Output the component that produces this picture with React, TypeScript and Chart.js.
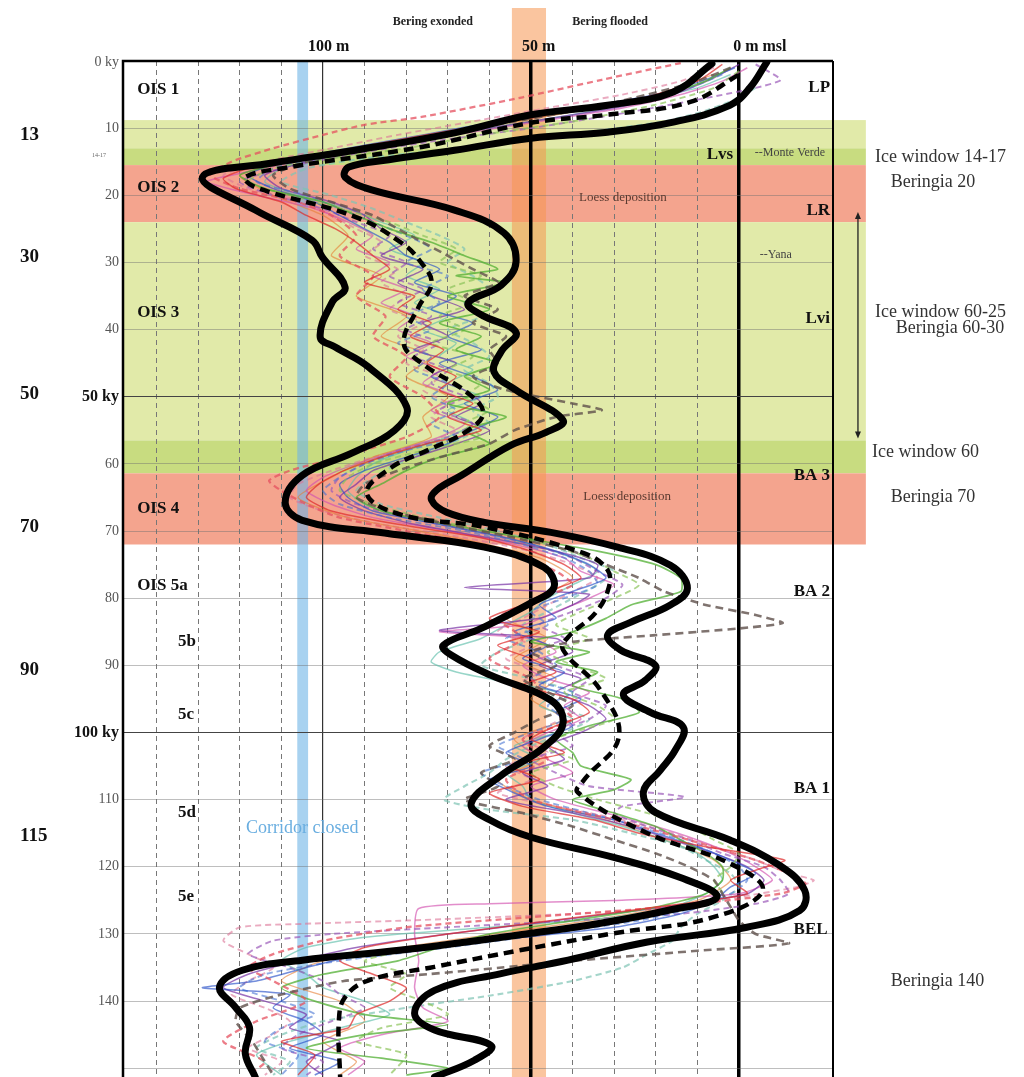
import React, { useEffect, useRef } from "react";
import { Chart, registerables } from "chart.js";

Chart.register(...registerables);

const SERIF = "'Liberation Serif', 'DejaVu Serif', serif";

type P = [number, number]; // [age ky, sea level m]

// ---------- axis ranges ----------
const SEA_MIN = -148.1;
const SEA_MAX = 22.6;
const AGE_MIN = 0;
const AGE_MAX = 151.3;

const ageTicks = [0, 10, 20, 30, 40, 50, 60, 70, 80, 90, 100, 110, 120, 130, 140];
const ageTickLabels = ["0 ky", "10", "20", "30", "40", "50 ky", "60", "70", "80", "90", "100 ky", "110", "120", "130", "140"];
const outerAgeLabels = ["13", "30", "50", "70", "90", "115"];
const outerAgeAt = [11, 29.2, 49.6, 69.4, 90.7, 115.4];

// ---------- thick envelope curves ----------
const curveA: P[] = [
  [0.4, -6.5], [4.6, -15.8], [6.6, -31.6], [8.0, -50.0], [10.7, -68.4], [13.3, -92.3], [15.2, -112.2], [17.3, -129.0],
  [22.2, -116.3], [26.7, -102.6], [29.2, -100.2], [33.7, -94.7], [35.9, -97.8], [41.1, -100.7], [42.6, -97.1], [45.6, -89.0],
  [51.5, -79.9], [55.0, -82.8], [58.4, -93.1], [61.7, -105.0], [65.7, -109.1], [68.4, -105.0], [70.3, -85.2], [72.4, -61.2],
  [75.4, -46.9], [78.4, -44.5], [80.7, -50.0], [84.5, -62.0], [87.0, -71.1], [88.5, -69.1], [91.5, -59.6], [95.2, -45.2],
  [98.6, -42.3], [102.2, -46.9], [106.4, -57.2], [110.6, -64.4], [113.0, -60.0], [115.6, -50.0], [118.6, -30.1], [121.6, -14.1],
  [124.5, -5.3], [126.5, -17.2], [128.4, -33.3], [129.9, -50.0], [132.4, -81.1], [133.9, -105.0], [135.4, -119.4], [137.9, -124.9],
  [140.9, -121.1], [143.9, -117.7], [147.8, -118.7], [151.3, -116.3],
];
const curveB: P[] = [
  [0.15, 6.7], [4.0, 2.6], [6.6, -2.2], [9.1, -15.8], [10.6, -31.6], [11.5, -50.0], [13.3, -68.4], [14.7, -84.2], [15.8, -93.8],
  [17.3, -94.7], [19.2, -88.3], [22.2, -68.4], [25.6, -56.5], [29.9, -53.6], [33.4, -57.2], [36.0, -65.1], [37.8, -62.0],
  [40.4, -53.6], [43.3, -57.2], [46.3, -58.9], [49.0, -53.6], [53.5, -42.3], [55.3, -46.4], [57.2, -54.8], [61.7, -66.7],
  [63.9, -72.7], [65.4, -73.9], [67.2, -70.3], [68.7, -61.2], [70.2, -45.2], [72.4, -29.2], [75.1, -16.5], [78.5, -12.4],
  [81.0, -16.5], [83.6, -26.1], [85.5, -31.6], [87.7, -28.5], [90.0, -20.1], [92.2, -22.5], [94.4, -27.8], [97.0, -21.3],
  [99.2, -13.4], [102.6, -15.3], [105.6, -18.9], [108.9, -23.0], [111.9, -20.1], [116.0, -2.2], [119.8, 9.8], [123.5, 15.8],
  [126.5, 14.6], [129.0, 1.9], [131.2, -22.0], [133.9, -41.1], [135.9, -57.2], [138.4, -73.2], [141.8, -78.0], [144.3, -73.2],
  [146.6, -59.6], [148.8, -63.6], [151.3, -73.2],
];
const curveMean: P[] = [
  [2.1, -0.2], [6.1, -11.7], [8.0, -31.6], [9.2, -50.0], [12.8, -76.3], [15.8, -108.1], [17.3, -118.7], [18.8, -116.3],
  [23.2, -92.3], [27.1, -81.1], [30.1, -76.3], [33.1, -73.9], [36.6, -77.0], [42.0, -80.6], [45.0, -76.3], [49.5, -65.1],
  [52.4, -61.5], [55.0, -65.1], [57.9, -74.6], [60.5, -83.5], [64.4, -89.5], [67.6, -81.1], [69.4, -61.2], [73.3, -37.3],
  [75.8, -31.6], [78.4, -31.3], [82.1, -34.4], [85.8, -41.1], [87.7, -42.3], [93.7, -33.3], [100.7, -28.9], [107.1, -37.3],
  [108.9, -38.8], [115.0, -22.0], [119.5, -2.2], [123.5, 5.7], [127.5, -6.2], [129.9, -30.1], [132.4, -52.4], [134.9, -73.2],
  [136.9, -89.0], [139.4, -94.7], [142.9, -96.2], [151.3, -95.9],
];

// ---------- thin individual reconstructions ----------
const redSolid: P[] = [
  [0.5, -4], [3, -10], [6, -26], [8, -45], [10, -66], [12, -84], [14, -102], [16, -118], [17.5, -124], [19, -121], [21, -110],
  [23, -104], [25, -97], [27, -92], [29, -88], [31, -84], [33, -90], [35, -78], [37, -82], [39, -74], [41, -79], [43, -71],
  [45, -75], [47, -68], [49, -72], [51, -64], [53, -70], [55, -62], [57, -75], [59, -86], [61, -95], [63, -101], [65, -104],
  [67, -98], [69, -82], [71, -62], [73, -50], [75, -42], [77, -38], [79, -46], [81, -52], [83, -60], [85, -48], [87, -58],
  [89, -50], [91, -44], [93, -52], [95, -40], [97, -36], [99, -44], [101, -50], [103, -42], [105, -55], [107, -48], [109, -60],
  [111, -52], [113, -35], [115, -24], [117, -8], [119, 11], [120.5, 4], [122, -2], [124, 2], [126, -20], [128, -45], [130, -70],
  [132, -90], [134, -96], [136, -88], [138, -80], [140, -84], [142, -92], [144, -94], [146, -110], [148, -102], [151, -106],
];
const redDashed: P[] = [
  [0.3, -14], [2.8, -33], [5.4, -52], [8.3, -76], [9.5, -90], [11, -100], [13, -112], [15, -122], [17, -127], [19, -120],
  [21, -106], [23, -98], [26, -92], [29, -96], [32, -88], [35, -92], [38, -85], [41, -88], [44, -80], [47, -84], [50, -76],
  [53, -72], [56, -80], [59, -96], [61, -108], [62.5, -113], [64, -110], [66, -104], [68, -96], [70, -80], [72, -62], [74, -52],
  [76, -44], [78, -40], [80, -48], [83, -58], [86, -52], [89, -60], [92, -50], [95, -46], [98, -40], [101, -52], [104, -46],
  [107, -56], [110, -50], [113, -30], [116, -12], [119, 4], [121, 12], [122.5, 16], [124, 10], [126, -18], [127.5, -50],
  [129, -80], [131, -100], [133, -112], [135, -118], [137, -112], [140, -104], [143, -116], [146, -124], [149, -114], [151, -118],
];
const greenSolid: P[] = [
  [1, -2], [3, -8], [5, -18], [7, -34], [9, -56], [11, -72], [13, -90], [15, -108], [17, -120], [19, -114], [21, -100],
  [23, -92], [25, -84], [27, -74], [29, -66], [31, -58], [32, -68], [33, -56], [35, -70], [37, -60], [39, -72], [41, -62],
  [43, -68], [45, -58], [47, -66], [49, -60], [51, -70], [53, -56], [55, -66], [57, -60], [59, -72], [61, -80], [63, -86],
  [65, -92], [67, -86], [69, -70], [71, -52], [73, -34], [75, -20], [77, -14], [79, -14], [81, -26], [83, -32], [85, -40],
  [86.5, -50], [88, -36], [89.5, -44], [91, -34], [93, -40], [95, -28], [97, -24], [99, -36], [101, -44], [103, -40],
  [105, -38], [107, -26], [108.5, -30], [110, -40], [112, -30], [114, -20], [116, -14], [118, -8], [120, -4], [122, -4],
  [124, -8], [126, -20], [128, -40], [130, -60], [132, -72], [134, -82], [136, -100], [138, -110], [140, -102], [142, -90],
  [143.5, -70], [145, -90], [147, -104], [148.5, -86], [150, -70], [151, -80],
];
const greenDashed: P[] = [
  [1.5, 0], [4, -6], [6.5, -20], [9, -40], [11, -62], [13, -80], [14.5, -98], [16, -112], [18, -118], [20, -108], [22, -96],
  [24, -84], [26, -76], [28, -68], [30, -72], [32, -62], [34, -70], [36, -64], [38, -72], [40, -66], [42, -74], [44, -64],
  [46, -70], [48, -62], [50, -66], [52, -60], [54, -66], [56, -62], [58, -76], [60, -88], [62, -94], [64, -96], [66, -88],
  [68, -76], [70, -60], [72, -46], [74, -36], [76, -30], [78, -24], [80, -30], [82, -38], [84, -44], [86, -36], [88, -46],
  [90, -40], [92, -32], [94, -42], [96, -34], [98, -30], [100, -40], [102, -48], [104, -40], [106, -50], [108, -44],
  [110, -34], [112, -22], [114, -12], [116, -6], [118, 0], [120, -2], [122, -6], [124, -4], [126, -12], [128, -28],
  [130, -52], [132, -76], [134, -90], [136, -80], [138, -84], [140, -76], [142, -70], [144, -86], [146, -92], [148, -80], [151, -84],
];
const blueSolid: P[] = [
  [1, -1], [3, -9], [5, -20], [7, -38], [9, -58], [11, -76], [13, -94], [15, -110], [17, -118], [19, -112], [21, -102],
  [23, -96], [25, -90], [27, -84], [29, -80], [31, -72], [33, -78], [35, -68], [37, -74], [39, -64], [41, -70], [43, -62],
  [45, -72], [47, -64], [49, -58], [51, -66], [53, -58], [55, -64], [57, -70], [59, -80], [61, -90], [63, -96], [65, -94],
  [67, -88], [69, -72], [71, -56], [73, -44], [75, -36], [77, -32], [79, -40], [81, -48], [83, -44], [85, -54], [87, -46],
  [89, -52], [91, -42], [93, -48], [95, -38], [97, -44], [99, -40], [101, -48], [103, -56], [105, -50], [107, -60], [109, -54],
  [111, -46], [113, -30], [115, -20], [117, -10], [119, -2], [121, 4], [123, -2], [125, -6], [127, -14], [129, -30], [131, -60],
  [133, -90], [135, -104], [137, -116], [138, -129], [139, -108], [141, -112], [143, -104], [145, -100], [147, -108],
  [149, -96], [151, -102],
];
const blueDashed: P[] = [
  [2, -4], [4, -12], [6, -28], [8, -46], [10, -64], [12, -82], [14, -98], [16, -112], [18, -116], [20, -104], [22, -96],
  [24, -88], [26, -80], [28, -74], [30, -80], [32, -70], [34, -76], [36, -72], [38, -80], [40, -74], [42, -82], [44, -74],
  [46, -78], [48, -70], [50, -74], [52, -68], [54, -74], [56, -68], [58, -80], [60, -90], [62, -96], [64, -100], [66, -96],
  [68, -84], [70, -66], [72, -52], [74, -42], [76, -36], [78, -34], [80, -42], [82, -50], [84, -46], [86, -56], [88, -48],
  [90, -44], [92, -50], [94, -40], [96, -46], [98, -42], [100, -50], [102, -58], [104, -52], [106, -62], [108, -56],
  [110, -48], [112, -36], [114, -24], [116, -14], [118, -6], [120, 0], [122, 2], [124, -2], [126, -10], [128, -24],
  [130, -46], [132, -70], [134, -96], [136, -114], [138, -120], [140, -110], [142, -102], [144, -110], [146, -114],
  [148, -106], [151, -110],
];
const purpleSolid: P[] = [
  [0.5, 0], [2.5, -6], [5, -16], [7, -30], [9, -50], [11, -70], [13, -88], [15, -104], [17, -114], [19, -110], [21, -98],
  [23, -90], [25, -86], [27, -80], [29, -86], [31, -76], [33, -82], [35, -74], [37, -66], [39, -76], [41, -70], [43, -78],
  [45, -68], [47, -74], [49, -66], [51, -62], [53, -68], [55, -60], [57, -68], [59, -78], [61, -88], [63, -92], [65, -96],
  [67, -90], [69, -78], [71, -60], [73, -44], [75, -34], [77, -36], [78.4, -66], [79.4, -36], [81, -40], [83, -48],
  [84.8, -72], [86, -44], [88, -40], [90, -48], [92, -38], [94, -44], [96, -36], [98, -32], [100, -38], [102, -46],
  [104, -42], [106, -52], [108, -46], [110, -56], [112, -40], [114, -26], [116, -16], [118, -6], [120, 2], [122, 6],
  [124, 2], [126, -18], [128, -44], [130, -70], [132, -92], [134, -106], [136, -118], [138, -124], [140, -114], [142, -104],
  [144, -108], [146, -96], [149, -104], [151, -100],
];
const purpleDashed: P[] = [
  [0.5, 4], [2.8, 10], [4, 4], [6, -12], [8, -30], [10, -50], [12, -74], [14, -94], [16, -110], [18, -120], [20, -112],
  [22, -100], [24, -92], [26, -84], [28, -88], [30, -80], [32, -84], [34, -76], [36, -82], [38, -74], [40, -80], [42, -72],
  [44, -78], [46, -70], [48, -74], [50, -66], [52, -72], [54, -64], [56, -70], [58, -82], [60, -90], [62, -96], [64, -98],
  [66, -92], [68, -80], [70, -64], [72, -50], [74, -40], [76, -34], [78, -28], [80, -32], [82, -40], [84, -48], [86, -42],
  [88, -50], [90, -44], [92, -36], [94, -40], [96, -32], [98, -36], [100, -44], [102, -40], [104, -50], [106, -44],
  [108, -36], [109.6, -13], [111, -28], [112, -30], [114, -22], [116, -12], [118, -4], [120, 6], [122, 10], [124, 12],
  [125.5, 4], [127, -14], [128, -40], [129, -70], [130, -98], [131, -112], [133, -118], [135, -108], [137, -100],
  [139, -96], [141, -90], [143, -98], [145, -106], [147, -110], [149, -100], [151, -104],
];
const magentaSolid: P[] = [
  [1, 2], [3, -4], [5, -14], [7, -28], [9, -48], [11, -68], [13, -86], [15, -106], [17, -122], [18, -128], [20, -116],
  [22, -102], [24, -94], [26, -88], [28, -92], [30, -84], [32, -88], [34, -80], [36, -86], [38, -78], [40, -82], [42, -74],
  [44, -80], [46, -72], [48, -76], [50, -68], [52, -74], [54, -66], [56, -72], [58, -82], [60, -92], [62, -100], [64, -104],
  [66, -98], [68, -88], [70, -70], [72, -54], [74, -42], [76, -38], [78, -30], [80, -36], [82, -44], [84, -52], [85, -72],
  [86, -50], [88, -44], [90, -52], [92, -46], [94, -36], [96, -42], [98, -38], [100, -46], [102, -52], [104, -46],
  [106, -40], [108, -50], [110, -44], [112, -32], [114, -20], [116, -10], [118, -2], [120, 4], [122, 8], [124, 0],
  [125, -30], [125.5, -60], [126.2, -77], [130, -78], [134, -77], [138, -78], [141, -76], [143, -70], [145, -86], [147, -96],
  [149, -90], [151, -94],
];
const tealSolid: P[] = [
  [2, -2], [4, -10], [6, -24], [8, -40], [10, -60], [12, -78], [14, -96], [16, -110], [18, -114], [20, -106], [22, -94],
  [24, -86], [26, -78], [28, -84], [30, -76], [32, -80], [34, -72], [36, -78], [38, -70], [40, -76], [42, -68], [44, -72],
  [46, -64], [48, -70], [50, -62], [52, -70], [54, -64], [56, -70], [58, -80], [60, -88], [62, -92], [64, -94], [66, -90],
  [68, -80], [70, -64], [72, -50], [74, -40], [76, -34], [78, -40], [80, -46], [82, -50], [84, -56], [86, -62], [88, -72],
  [89.5, -74], [91, -68], [92.5, -56], [94, -44], [96, -48], [98, -40], [100, -44], [102, -54], [104, -48], [106, -56],
  [108, -52], [110, -50], [112, -40], [114, -28], [116, -18], [118, -10], [120, -6], [122, -4], [124, -8], [126, -16],
  [127.5, -30], [129, -60], [130.5, -90], [132, -104], [134, -110], [136, -104], [138, -100], [140, -90], [142, -84],
  [144, -96], [146, -108], [148, -116], [151, -110],
];
const tealDashed: P[] = [
  [4, 4], [6, -2], [7.6, -9], [9, -18], [10.3, -33], [11.8, -52], [13.3, -72], [14.5, -90], [16, -104], [18, -110],
  [20, -98], [22, -88], [24, -80], [26, -72], [28, -66], [30, -70], [32, -64], [34, -60], [36, -66], [38, -62], [40, -70],
  [42, -64], [44, -60], [46, -66], [48, -60], [50, -58], [52, -64], [54, -60], [56, -66], [58, -74], [60, -82], [62, -88],
  [64, -92], [66, -86], [68, -72], [70, -58], [72, -46], [74, -38], [76, -30], [78, -34], [80, -40], [82, -46], [84, -52],
  [86, -50], [88, -58], [90, -62], [92, -50], [94, -40], [96, -44], [98, -36], [100, -42], [102, -50], [104, -56],
  [106, -60], [108, -66], [110, -71], [111.5, -60], [113, -40], [115, -26], [117, -14], [119, -8], [121, -2], [123, 0],
  [125, -4], [127, -10], [129, -14], [131, -16], [133, -22], [135, -28], [137, -40], [139, -58], [141, -80], [143, -100],
  [145, -110], [147, -116], [149, -108], [151, -112],
];
const greyDashed: P[] = [
  [1, -2], [3, -10], [5, -22], [7, -36], [9, -54], [11, -72], [13, -90], [15, -104], [17, -112], [19, -108], [21, -98],
  [23, -88], [25, -82], [27, -76], [29, -70], [31, -64], [33, -58], [35, -66], [37, -58], [39, -64], [41, -56], [43, -60],
  [45, -58], [47, -64], [49, -56], [51, -40], [52, -33], [53, -44], [55, -54], [57, -60], [59, -72], [61, -82], [63, -90],
  [65, -92], [67, -84], [69, -70], [71, -54], [73, -40], [75, -32], [77, -24], [79, -18], [81, -8], [82.5, 4], [83.7, 10.5],
  [84.5, 0], [85.5, -20], [86.5, -40], [88, -50], [90, -44], [92, -52], [94, -46], [96, -40], [98, -48], [100, -54],
  [102, -60], [104, -54], [106, -62], [108, -58], [110, -66], [112, -52], [114, -40], [116, -30], [118, -20], [120, -12],
  [122, -6], [124, -4], [126, -2], [128, 0], [130, 4], [131.4, 12], [132.5, -10], [134, -40], [135, -57], [136, -75],
  [137, -95], [139, -110], [141, -120], [143, -121], [146, -117], [148, -115], [151, -112],
];
const orangeSolid: P[] = [
  [2, -6], [5, -20], [8, -44], [11, -74], [14, -100], [17, -120], [20, -112], [23, -100], [26, -94], [29, -98], [32, -86],
  [35, -92], [38, -80], [41, -86], [44, -74], [47, -80], [50, -70], [53, -76], [56, -74], [59, -88], [62, -98], [65, -106],
  [68, -94], [71, -68], [74, -48], [77, -40], [80, -48], [83, -56], [86, -46], [89, -54], [92, -44], [95, -50], [98, -42],
  [101, -54], [104, -48], [107, -58], [110, -50], [113, -32], [116, -18], [119, -6], [122, -2], [125, -10], [128, -36],
  [131, -70], [134, -100], [137, -110], [140, -96], [143, -90], [146, -100], [149, -92], [151, -96],
];
const pinkDashed: P[] = [
  [1, -6], [3, -14], [5, -28], [7, -46], [9, -64], [11, -82], [13, -98], [15, -114], [17, -124], [19, -118], [21, -104],
  [23, -98], [25, -92], [27, -86], [29, -90], [31, -82], [33, -86], [35, -80], [37, -84], [39, -76], [41, -82], [43, -76],
  [45, -80], [47, -72], [49, -76], [51, -70], [53, -74], [55, -68], [57, -76], [59, -88], [61, -98], [63, -106], [65, -108],
  [67, -100], [69, -86], [71, -66], [73, -50], [75, -40], [77, -34], [79, -40], [81, -46], [83, -52], [85, -58], [87, -50],
  [89, -56], [91, -48], [93, -54], [95, -46], [97, -40], [99, -46], [101, -52], [103, -46], [105, -56], [107, -50],
  [109, -58], [111, -44], [113, -28], [115, -16], [117, -6], [119, 4], [121, 12], [122, 18], [123, 14], [124.5, 0],
  [126, -14], [127, -40], [128, -80], [128.5, -105], [129, -120], [131, -124], [133, -118], [135, -112], [137, -118],
  [139, -122], [141, -114], [143, -108], [145, -112], [147, -118], [149, -110], [151, -114],
];

// ---------- shaded periods (age ranges) ----------
const bandFrom = [8.8, 13.0, 15.5, 24.0, 56.5, 61.4];
const bandTo = [13.0, 15.5, 24.0, 56.5, 61.4, 72.0];
const bandKind = ["ice", "window", "loess", "ice", "window", "loess"];
const BAND_RIGHT_M = 30.5;
const orangeRange = [-54.6, -46.4];
const blueRange = [-106.2, -103.6];

// ---------- annotations: [text, sea level m, age ky] ----------
const stageLabels: [string, number, number][] = [
  ["OIS 1", -144.7, 4.3], ["OIS 2", -144.7, 18.8], ["OIS 3", -144.7, 37.5], ["OIS 4", -144.7, 66.6],
  ["OIS 5a", -144.7, 78.1], ["5b", -134.9, 86.5], ["5c", -134.9, 97.4], ["5d", -134.9, 112.0], ["5e", -134.9, 124.4],
];
const siteLabels: [string, number, number][] = [
  ["LP", 21.9, 4.0], ["LR", 21.9, 22.3], ["Lvi", 21.9, 38.3], ["BA 3", 21.9, 61.8], ["BA 2", 21.9, 79.0],
  ["BA 1", 21.9, 108.3], ["BEL", 21.3, 129.4], ["Lvs", -1.4, 13.9],
];
const sideNotes: [string, number, number][] = [
  ["Ice window 14-17", 32.7, 14.3], ["Beringia 20", 36.5, 18.0], ["Ice window 60-25", 32.7, 37.4],
  ["Beringia 60-30", 37.7, 39.8], ["Ice window 60", 32.0, 58.3], ["Beringia 70", 36.5, 64.9], ["Beringia 140", 36.5, 137.0],
];
const smallNotes: [string, number, number][] = [
  ["--Monte Verde", 3.8, 13.7], ["--Yana", 5.0, 28.9],
];
const loessNotes: [string, number, number][] = [
  ["Loess deposition", -27.9, 20.4], ["Loess deposition", -26.9, 64.9],
];
const seaLevelLabels: [string, number][] = [["100 m", -103.6], ["50 m", -52.2], ["0 m msl", -1.4]];
const beringLabels: [string, number][] = [["Bering exonded", -73.6], ["Bering flooded", -31.0]];
const corridorNote: [string, number, number] = ["Corridor closed", -118.5, 114.3];
const arrowSpan = { m: 28.6, from: 22.5, to: 56.2 };

const toXY = (s: P[]) => s.map(([ky, m]) => ({ x: m, y: ky }));

const thinSeries: { data: P[]; color: string; dash: number[]; width: number }[] = [
  { data: greyDashed, color: "rgba(95,80,75,0.8)", dash: [8, 5], width: 2.6 },
  { data: redSolid, color: "rgba(222,40,40,0.7)", dash: [], width: 1.5 },
  { data: redDashed, color: "rgba(230,80,95,0.75)", dash: [6, 4], width: 2.3 },
  { data: greenSolid, color: "rgba(80,175,50,0.75)", dash: [], width: 1.7 },
  { data: greenDashed, color: "rgba(140,195,90,0.7)", dash: [6, 4], width: 1.9 },
  { data: blueSolid, color: "rgba(40,80,200,0.65)", dash: [], width: 1.5 },
  { data: blueDashed, color: "rgba(70,115,210,0.6)", dash: [6, 4], width: 1.9 },
  { data: purpleSolid, color: "rgba(120,50,165,0.7)", dash: [], width: 1.5 },
  { data: purpleDashed, color: "rgba(155,90,185,0.7)", dash: [6, 4], width: 1.9 },
  { data: magentaSolid, color: "rgba(210,80,175,0.65)", dash: [], width: 1.5 },
  { data: tealSolid, color: "rgba(95,190,170,0.65)", dash: [], width: 1.5 },
  { data: tealDashed, color: "rgba(125,195,180,0.7)", dash: [6, 4], width: 2.1 },
  { data: orangeSolid, color: "rgba(230,125,50,0.6)", dash: [], width: 1.4 },
  { data: pinkDashed, color: "rgba(220,115,150,0.6)", dash: [6, 4], width: 1.9 },
];

const bandColor: Record<string, string> = {
  ice: "#e1eaa9",
  window: "#c8dc80",
  loess: "#f4a48e",
};

function drawText(ctx: CanvasRenderingContext2D, s: string, x: number, y: number, font: string, color: string, align: CanvasTextAlign = "left") {
  ctx.font = font;
  ctx.fillStyle = color;
  ctx.textAlign = align;
  ctx.textBaseline = "middle";
  ctx.fillText(s, x, y);
}

const backdropPlugin = {
  id: "backdrop",
  beforeDraw(chart: any) {
    const { ctx, chartArea: a, scales } = chart;
    const x = scales.x, y = scales.y;
    ctx.save();
    ctx.fillStyle = "#ffffff";
    ctx.fillRect(0, 0, chart.width, chart.height);
    const xr = x.getPixelForValue(BAND_RIGHT_M);
    for (let i = 0; i < bandFrom.length; i++) {
      const y0 = y.getPixelForValue(bandFrom[i]);
      const y1 = y.getPixelForValue(bandTo[i]);
      ctx.fillStyle = bandColor[bandKind[i]];
      ctx.fillRect(a.left, y0, xr - a.left, y1 - y0);
    }
    // Bering threshold band (orange) extends above plot
    const ox0 = x.getPixelForValue(orangeRange[0]);
    const ox1 = x.getPixelForValue(orangeRange[1]);
    ctx.fillStyle = "rgba(246,150,80,0.55)";
    ctx.fillRect(ox0, 8, ox1 - ox0, chart.height - 8);
    // corridor band (blue)
    const bx0 = x.getPixelForValue(blueRange[0]);
    const bx1 = x.getPixelForValue(blueRange[1]);
    ctx.fillStyle = "rgba(110,180,230,0.6)";
    ctx.fillRect(bx0, a.top, bx1 - bx0, a.bottom - a.top);
    ctx.restore();
  },
};

const overlayPlugin = {
  id: "overlay",
  afterDraw(chart: any) {
    const { ctx, chartArea: a, scales } = chart;
    const x = scales.x, y = scales.y;
    ctx.save();
    // frame
    ctx.strokeStyle = "#000";
    ctx.lineWidth = 2.5;
    ctx.beginPath();
    ctx.moveTo(a.left, a.bottom);
    ctx.lineTo(a.left, a.top);
    ctx.lineTo(a.right, a.top);
    ctx.stroke();
    ctx.lineWidth = 2;
    ctx.beginPath();
    ctx.moveTo(a.right, a.top);
    ctx.lineTo(a.right, a.bottom);
    ctx.stroke();

    // age tick labels
    ageTicks.forEach((v, i) => {
      const lbl = ageTickLabels[i];
      const bold = lbl.indexOf("ky") > 0 && v > 0;
      drawText(ctx, lbl, a.left - 4, y.getPixelForValue(v) + (v === 0 ? 1 : 0),
        bold ? `bold 16px ${SERIF}` : `14px ${SERIF}`, bold ? "#111" : "#555", "right");
    });
    drawText(ctx, "14-17", a.left - 17, y.getPixelForValue(14.0), `6px ${SERIF}`, "#666", "right");
    outerAgeLabels.forEach((s, i) => {
      drawText(ctx, s, 20, y.getPixelForValue(outerAgeAt[i]), `bold 19px ${SERIF}`, "#111", "left");
    });

    // top labels
    seaLevelLabels.forEach(([s, m]) => {
      drawText(ctx, s, x.getPixelForValue(m), a.top - 14, `bold 16px ${SERIF}`, "#111", "left");
    });
    beringLabels.forEach(([s, m]) => {
      drawText(ctx, s, x.getPixelForValue(m), 22, `bold 12px ${SERIF}`, "#222", "center");
    });

    // stage labels
    stageLabels.forEach(([s, m, ky]) => {
      drawText(ctx, s, x.getPixelForValue(m), y.getPixelForValue(ky), `bold 17px ${SERIF}`, "#111", "left");
    });
    siteLabels.forEach(([s, m, ky]) => {
      drawText(ctx, s, x.getPixelForValue(m), y.getPixelForValue(ky), `bold 17px ${SERIF}`, "#111", "right");
    });
    smallNotes.forEach(([s, m, ky]) => {
      drawText(ctx, s, x.getPixelForValue(m), y.getPixelForValue(ky), `12px ${SERIF}`, "#444", "left");
    });
    loessNotes.forEach(([s, m, ky]) => {
      drawText(ctx, s, x.getPixelForValue(m), y.getPixelForValue(ky), `13px ${SERIF}`, "#5a3a30", "center");
    });
    sideNotes.forEach(([s, m, ky]) => {
      drawText(ctx, s, x.getPixelForValue(m), y.getPixelForValue(ky), `18px ${SERIF}`, "#333", "left");
    });
    drawText(ctx, corridorNote[0], x.getPixelForValue(corridorNote[1]), y.getPixelForValue(corridorNote[2]),
      `18px ${SERIF}`, "#6aaee0", "left");

    // double arrow
    const ax = x.getPixelForValue(arrowSpan.m);
    const ay0 = y.getPixelForValue(arrowSpan.from);
    const ay1 = y.getPixelForValue(arrowSpan.to);
    ctx.strokeStyle = "#222";
    ctx.fillStyle = "#222";
    ctx.lineWidth = 1.3;
    ctx.beginPath();
    ctx.moveTo(ax, ay0 + 4);
    ctx.lineTo(ax, ay1 - 4);
    ctx.stroke();
    ctx.beginPath();
    ctx.moveTo(ax, ay0);
    ctx.lineTo(ax - 3, ay0 + 7);
    ctx.lineTo(ax + 3, ay0 + 7);
    ctx.closePath();
    ctx.fill();
    ctx.beginPath();
    ctx.moveTo(ax, ay1);
    ctx.lineTo(ax - 3, ay1 - 7);
    ctx.lineTo(ax + 3, ay1 - 7);
    ctx.closePath();
    ctx.fill();
    ctx.restore();
  },
};

export default function App() {
  const ref = useRef<HTMLCanvasElement | null>(null);

  useEffect(() => {
    if (!ref.current) return;
    const datasets: any[] = [
      {
        data: toXY(curveA), borderColor: "#000", borderWidth: 7, tension: 0.4,
        borderCapStyle: "round", borderJoinStyle: "round",
      },
      {
        data: toXY(curveB), borderColor: "#000", borderWidth: 7, tension: 0.4,
        borderCapStyle: "round", borderJoinStyle: "round",
      },
      {
        data: toXY(curveMean), borderColor: "#000", borderWidth: 4.5, tension: 0.4, borderDash: [10, 6],
      },
      ...thinSeries.map((s) => ({
        data: toXY(s.data), borderColor: s.color, borderWidth: s.width, borderDash: s.dash, tension: 0.2,
      })),
    ].map((d) => ({ ...d, showLine: true, pointRadius: 0, pointHoverRadius: 0, fill: false }));

    const chart = new Chart(ref.current, {
      type: "scatter",
      data: { datasets },
      options: {
        animation: false,
        responsive: false,
        maintainAspectRatio: false,
        events: [],
        layout: { padding: { left: 123, top: 61, right: 191, bottom: 0 } },
        plugins: { legend: { display: false }, tooltip: { enabled: false } },
        scales: {
          x: {
            type: "linear",
            min: SEA_MIN,
            max: SEA_MAX,
            ticks: { display: false, stepSize: 10, includeBounds: false },
            grid: {
              drawTicks: false,
              color: (c: any) => {
                const v = c.tick ? c.tick.value : 1;
                if (v > 0) return "rgba(0,0,0,0)";
                if (v === 0 || v === -50) return "#000";
                if (v === -100) return "#333";
                return "#777";
              },
              lineWidth: (c: any) => {
                const v = c.tick ? c.tick.value : 1;
                if (v === 0 || v === -50) return 3.5;
                if (v === -100) return 1.2;
                return 1;
              },
            },
            border: {
              display: false,
              dash: (c: any) => {
                const v = c.tick ? c.tick.value : 1;
                return v % 50 === 0 ? [] : [5, 4];
              },
            },
          },
          y: {
            type: "linear",
            reverse: true,
            min: AGE_MIN,
            max: AGE_MAX,
            ticks: { display: false, stepSize: 10, includeBounds: false },
            grid: {
              drawTicks: false,
              color: (c: any) => {
                const v = c.tick ? c.tick.value : 1;
                if (v === 50 || v === 100) return "#444";
                return "rgba(110,110,110,0.45)";
              },
              lineWidth: (c: any) => {
                const v = c.tick ? c.tick.value : 1;
                return v === 0 ? 0 : 1;
              },
            },
            border: { display: false },
          },
        },
      },
      plugins: [backdropPlugin, overlayPlugin],
    } as any);
    return () => chart.destroy();
  }, []);

  return (
    <div style={{ position: "fixed", left: 0, top: 0, width: 1024, height: 1077, background: "#fff" }}>
      <canvas ref={ref} width={1024} height={1077} style={{ display: "block" }} />
    </div>
  );
}
